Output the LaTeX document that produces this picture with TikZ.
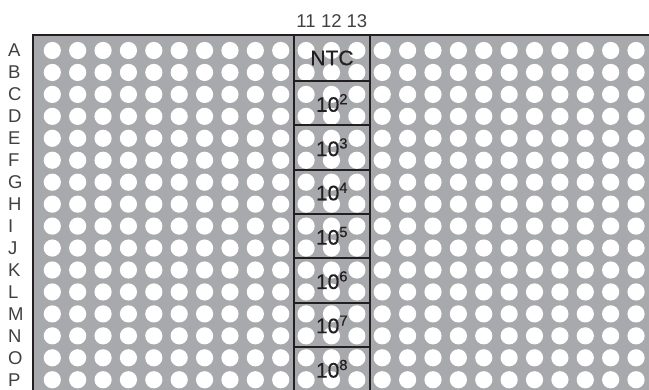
\documentclass[tikz,border=0pt]{standalone}
\usepackage{fontspec}
\setmainfont{Liberation Sans}
\newfontfamily\feldschrift[FakeBold=0.4]{Liberation Sans}
\usetikzlibrary{positioning}

\definecolor{plattengrau}{HTML}{A7A9AC}
\definecolor{randfarbe}{HTML}{231F20}

\tikzset{
	achsentext/.style={inner sep=0pt, text=black!75, font=\fontsize{18.5}{18.5}\selectfont},
	feldtext/.style={inner sep=0pt, text=randfarbe, font=\feldschrift\fontsize{21}{21}\selectfont},
	feldlinie/.style={randfarbe, line width=2pt}
}

\begin{document}
\begin{tikzpicture}[x=1pt,y=-1pt]
	\useasboundingbox (0,0) rectangle (649,390);
	
	% Platte
	\fill[plattengrau] (33,35) rectangle (649,390);
	
	% Vertiefungen
	\foreach \c in {1,...,24} {
		\foreach \r in {1,...,16} {
			\pgfmathsetmacro{\xpos}{52.3+(\c-1)*25.38}
			\pgfmathsetmacro{\ypos}{50.5+(\r-1)*21.95}
			\fill[white] (\xpos,\ypos) circle[radius=8.6pt];
		}
	}
	
	% Rand
	\draw[randfarbe, line width=2.5pt] (33,390) -- (33,35) -- (649,35);
	
	% Zeilenbeschriftung
	\foreach \z [count=\r] in {A,B,C,D,E,F,G,H,I,J,K,L,M,N,O,P} {
		\pgfmathsetmacro{\ypos}{50.5+(\r-1)*21.95}
		\node[achsentext, anchor=west] (zeile\z) at (8,\ypos) {\z};
	}
	
	% Spaltenbeschriftung
	\foreach \s in {11,12,13} {
		\pgfmathsetmacro{\xpos}{52.3+(\s-1)*25.38}
		\node[achsentext] (spalte\s) at (\xpos,21.5) {\s};
	}
	
	% Verdünnungsreihe
	\draw[feldlinie] (293.5,35) -- (293.5,390);
	\draw[feldlinie] (370,35) -- (370,390);
	\foreach \k in {1,...,7} {
		\pgfmathsetmacro{\ypos}{50.5+(2*\k-0.5)*21.95-0.4*(7-\k)}
		\draw[feldlinie] (293.5,\ypos) -- (370,\ypos);
	}
	
	\node[feldtext] (ntc) at (332,58) {NTC};
	\foreach \e [count=\k] in {2,3,4,5,6,7,8} {
		\pgfmathsetmacro{\ypos}{50.5+(2*\k+0.5)*21.95-0.4*(7-\k)}
		\node[feldtext] (verd\e) at (332,\ypos) {10\textsuperscript{\e}};
	}
\end{tikzpicture}
\end{document}
